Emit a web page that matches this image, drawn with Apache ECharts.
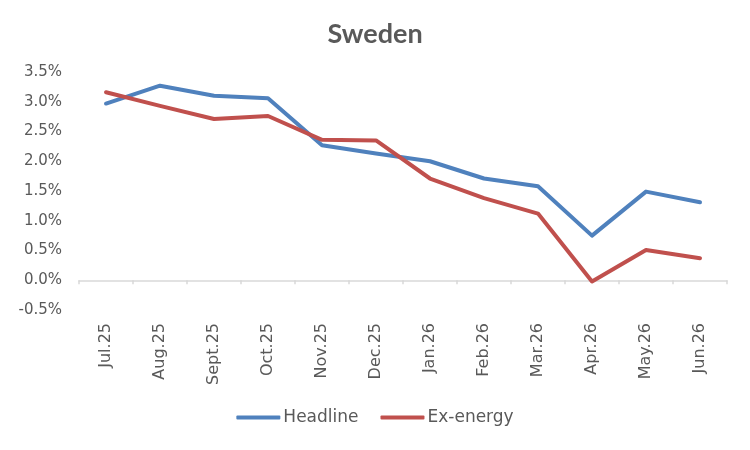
<!DOCTYPE html>
<html>
<head>
<meta charset="utf-8">
<script src="https://cdn.jsdelivr.net/npm/echarts@6/dist/echarts.min.js"></script>
<style>
  html, body { margin: 0; padding: 0; background: #fff; }
  #main { width: 750px; height: 450px; }
</style>
</head>
<body>
<div id="main"></div>
<script>
// data
var months = ['Jul.25', 'Aug.25', 'Sept.25', 'Oct.25', 'Nov.25', 'Dec.25',
              'Jan.26', 'Feb.26', 'Mar.26', 'Apr.26', 'May.26', 'Jun.26'];
var headline = [2.97, 3.27, 3.10, 3.06, 2.27, 2.13, 2.00, 1.71, 1.58, 0.75, 1.49, 1.31];
var exEnergy = [3.16, 2.93, 2.71, 2.76, 2.36, 2.35, 1.71, 1.38, 1.12, -0.02, 0.51, 0.37];
var seriesNames = ['Headline', 'Ex-energy'];
var colors = ['#4f81bd', '#c0504d'];

var chart = echarts.init(document.getElementById('main'));
var font = '"DejaVu Sans", Verdana, sans-serif';

var option = {
    color: colors,
    animation: false,
    title: {
        text: 'Sweden',
        left: 'center',
        top: 16,
        textStyle: { fontFamily: 'Lato, sans-serif', fontSize: 27, fontWeight: 'bold', color: '#595959' }
    },
    legend: {
        data: seriesNames,
        bottom: 19,
        left: 'center',
        itemWidth: 44,
        itemHeight: 4,
        itemGap: 22,
        icon: 'roundRect',
        textStyle: { fontFamily: font, fontSize: 17, color: '#595959', padding: [0, 0, 0, -2] }
    },
    grid: { left: 79, right: 23, top: 72, bottom: 140, containLabel: false, outerBoundsMode: 'none' },
    xAxis: {
        type: 'category',
        data: months,
        boundaryGap: true,
        axisLine: { onZero: true, lineStyle: { color: '#d9d9d9', width: 1.5 } },
        axisTick: { show: true, length: 4, lineStyle: { color: '#d9d9d9', width: 1.5 } },
        axisLabel: {
            rotate: 90,
            margin: 13,
            interval: 0,
            fontFamily: font,
            fontSize: 16,
            color: '#595959'
        },
        splitLine: { show: false }
    },
    yAxis: {
        type: 'value',
        min: -0.5,
        max: 3.5,
        interval: 0.5,
        axisLine: { show: false },
        axisTick: { show: false },
        splitLine: { show: false },
        axisLabel: {
            margin: 17,
            fontFamily: font,
            fontSize: 15,
            color: '#595959',
            formatter: function (v) { return v.toFixed(1) + '%'; }
        }
    },
    series: [
        {
            name: seriesNames[0],
            type: 'line',
            data: headline,
            symbol: 'none',
            lineStyle: { width: 4, cap: 'round', join: 'round' }
        },
        {
            name: seriesNames[1],
            type: 'line',
            data: exEnergy,
            symbol: 'none',
            lineStyle: { width: 4, cap: 'round', join: 'round' }
        }
    ]
};
chart.setOption(option);
</script>
</body>
</html>
